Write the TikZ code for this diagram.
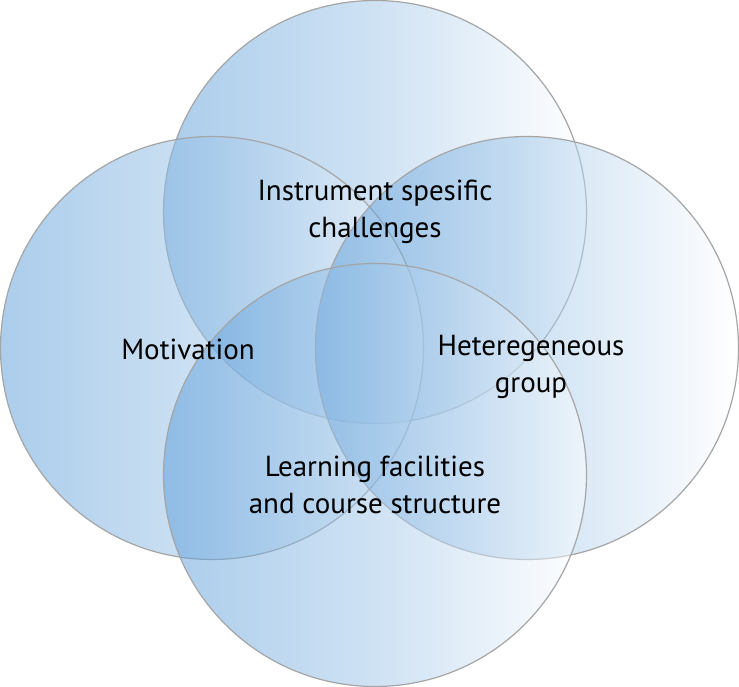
\documentclass[tikz,border=0pt]{standalone}
\usepackage{fontspec}
\setmainfont{PT Sans}

\definecolor{vennblue}{RGB}{88,155,216}
\definecolor{venngray}{RGB}{165,165,165}

\tikzset{
  venn/.style={circle, draw=venngray, line width=1.2pt, minimum size=423pt,
               inner sep=0pt, left color=vennblue, right color=white,
               middle color=vennblue!58!white, fill opacity=0.5},
  label/.style={align=center, font=\fontsize{29}{37}\selectfont, text=black}
}

\begin{document}
\begin{tikzpicture}[x=1pt, y=-1pt]
  \useasboundingbox (0,0) rectangle (739,687);

  % four overlapping circles
  \foreach \name/\px/\py in {top/375/212, left/212/348, right/527/348, bottom/375/475} {
    \node[venn] (\name) at (\px,\py) {};
  }

  % factor labels
  \node[label] (instr) at (375,212) {Instrument spesific\\challenges};
  \node[label] (motiv) at (188,349) {Motivation};
  \node[label] (hetero) at (531,367) {Heteregeneous\\group};
  \node[label] (learn) at (375,485) {Learning facilities\\and course structure};
\end{tikzpicture}
\end{document}
